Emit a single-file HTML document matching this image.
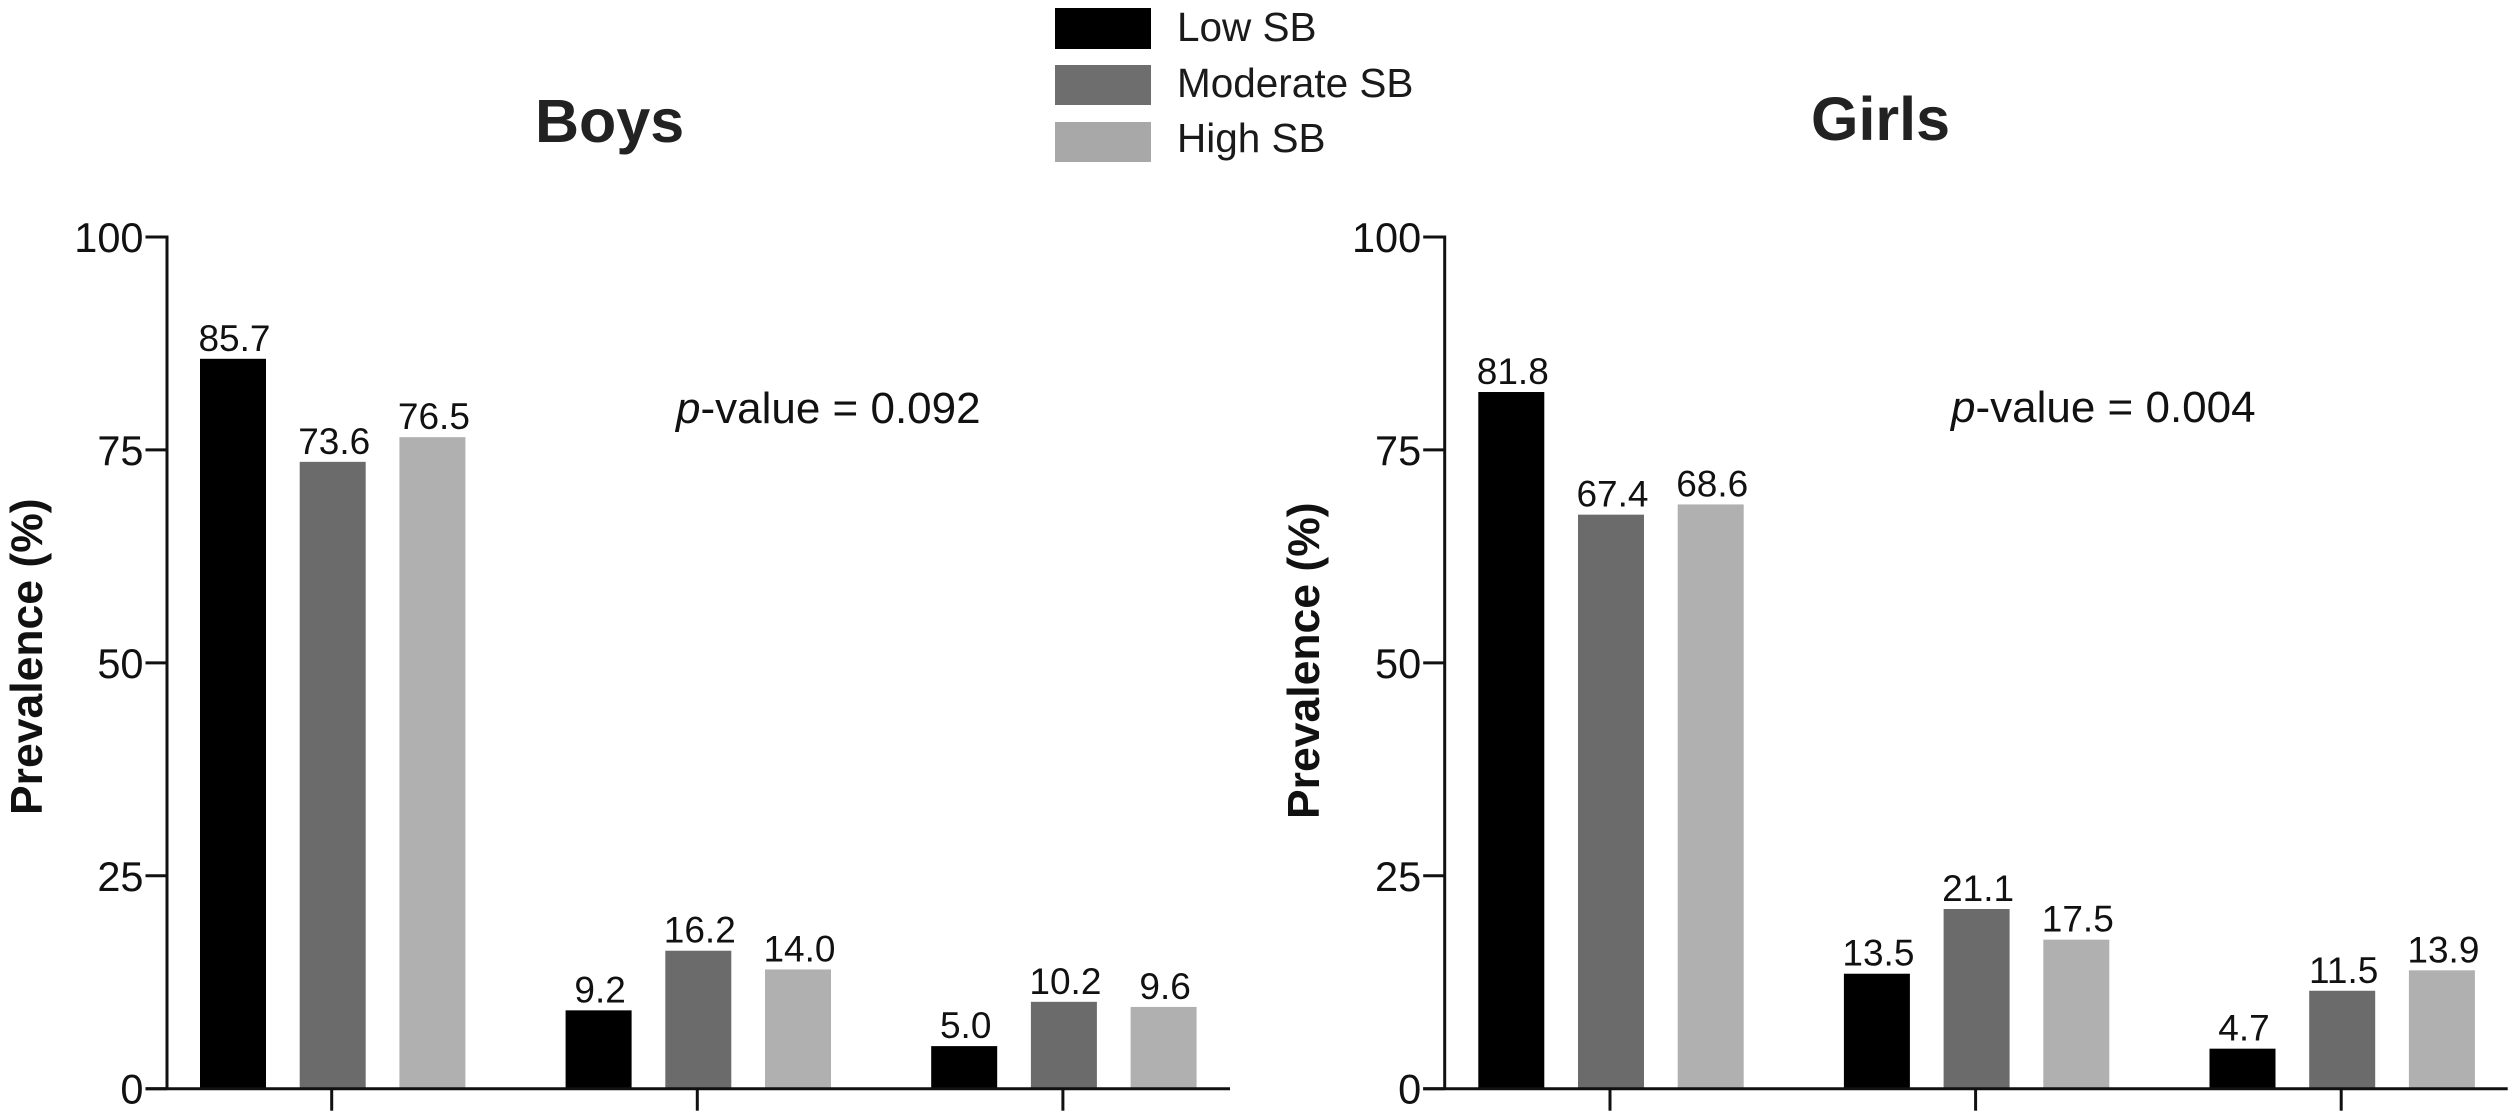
<!DOCTYPE html>
<html lang="en">
<head>
<meta charset="utf-8">
<title>Prevalence by sedentary behaviour level</title>
<style>
html,body{margin:0;padding:0;background:#fff;width:2517px;height:1120px;overflow:hidden}
svg{display:block;font-family:"Liberation Sans",Arial,sans-serif}
</style>
</head>
<body>
<svg id="chart" xmlns="http://www.w3.org/2000/svg" width="2517" height="1120" viewBox="0 0 2517 1120">
  <rect x="0" y="0" width="2517" height="1120" fill="#ffffff"/>
  <g>
    <g>
      <rect x="1055" y="8" width="96" height="41" fill="#000000"/>
      <text x="1177" y="41" font-size="40.5" fill="#1a1a1a">Low SB</text>
    </g>
    <g>
      <rect x="1055" y="65" width="96" height="40" fill="#6e6e6e"/>
      <text x="1177" y="97" font-size="40.5" fill="#1a1a1a">Moderate SB</text>
    </g>
    <g>
      <rect x="1055" y="122" width="96" height="40" fill="#a8a8a8"/>
      <text x="1177" y="152" font-size="40.5" fill="#1a1a1a">High SB</text>
    </g>
  </g>
  <text x="535" y="142" font-size="61" font-weight="700" fill="#222222">Boys</text>
  <text x="1811" y="140" font-size="61" font-weight="700" fill="#222222">Girls</text>
  <text transform="translate(42 815) rotate(-90)" font-size="44.5" font-weight="700" fill="#111111">Prevalence (%)</text>
  <text transform="translate(1319 819) rotate(-90)" font-size="44.5" font-weight="700" fill="#111111">Prevalence (%)</text>
  <text x="676" y="423" font-size="44" fill="#111111"><tspan font-style="italic">p</tspan>-value = 0.092</text>
  <text x="1951" y="422" font-size="44" fill="#111111"><tspan font-style="italic">p</tspan>-value = 0.004</text>
  <g id="boys-panel"></g>
  <g id="girls-panel"></g>
</svg>
<script>
const yTickLabels = [0, 25, 50, 75, 100];
const groupNames = ['group-1', 'group-2', 'group-3'];
const seriesNames = ['low-sb', 'moderate-sb', 'high-sb'];
const seriesColors = ['#000000', '#6b6b6b', '#b0b0b0'];
const boysLow = [85.7, 9.2, 5.0];
const boysModerate = [73.6, 16.2, 10.2];
const boysHigh = [76.5, 14.0, 9.6];
const girlsLow = [81.8, 13.5, 4.7];
const girlsModerate = [67.4, 21.1, 11.5];
const girlsHigh = [68.6, 17.5, 13.9];

const SVG_NS = 'http://www.w3.org/2000/svg';
const Y_ZERO = 1088.7;
const Y_TOP = 237;
const Y_MAX = 100;
const BAR_WIDTH = 66;
const BAR_STEP = 99.7;
const GROUP_STEP = 365.6;
const LABEL_GAP = 8;
const AXIS_COLOR = '#111111';
const AXIS_STROKE = 3;

function yScale(v) {
  return Y_ZERO - (v / Y_MAX) * (Y_ZERO - Y_TOP);
}
function xScale(firstBarX, groupIndex, seriesIndex) {
  return firstBarX + groupIndex * GROUP_STEP + seriesIndex * BAR_STEP;
}
function make(parent, tag, attrs, text) {
  const el = document.createElementNS(SVG_NS, tag);
  Object.keys(attrs).forEach(function (k) { el.setAttribute(k, attrs[k]); });
  if (text !== undefined) el.textContent = text;
  parent.appendChild(el);
  return el;
}
function drawPanel(panelId, prefix, axisX, firstBarX, axisEndX, series) {
  const g = document.getElementById(panelId);

  series.forEach(function (values, s) {
    values.forEach(function (value, i) {
      const x = xScale(firstBarX, i, s);
      const top = yScale(value);
      const bar = make(g, 'rect', { x: x, y: top, width: BAR_WIDTH, height: Y_ZERO - top, fill: seriesColors[s] });
      
      
      const label = make(g, 'text', { x: x + BAR_WIDTH / 2 + 1.5, y: top - LABEL_GAP, 'font-size': 37, 'text-anchor': 'middle', fill: '#111111' }, value.toFixed(1));
      
      
    });
  });

  const yAxis = make(g, 'line', { x1: axisX, x2: axisX, y1: yScale(Y_MAX) - 1.5, y2: Y_ZERO, stroke: AXIS_COLOR, 'stroke-width': AXIS_STROKE });
  
  

  const xAxis = make(g, 'line', { x1: axisX - 21.5, x2: axisEndX, y1: Y_ZERO, y2: Y_ZERO, stroke: AXIS_COLOR, 'stroke-width': AXIS_STROKE });
  
  

  yTickLabels.forEach(function (t) {
    const y = yScale(t);
    const tick = make(g, 'line', { x1: axisX - 21.5, x2: axisX, y1: y, y2: y, stroke: AXIS_COLOR, 'stroke-width': AXIS_STROKE });
    
    
    const label = make(g, 'text', { x: axisX - 23.5, y: y + 15, 'font-size': 41.5, 'text-anchor': 'end', fill: '#111111' }, String(t));
    
    
  });

  groupNames.forEach(function (name, i) {
    const cx = xScale(firstBarX, i, 1) + BAR_WIDTH / 2 - 1;
    const tick = make(g, 'line', { x1: cx, x2: cx, y1: Y_ZERO, y2: 1110.7, stroke: AXIS_COLOR, 'stroke-width': AXIS_STROKE });
    
    
  });
}
drawPanel('boys-panel', 'boys', 167, 200, 1230, [boysLow, boysModerate, boysHigh]);
drawPanel('girls-panel', 'girls', 1444.7, 1478.3, 2507.7, [girlsLow, girlsModerate, girlsHigh]);
</script>
</body>
</html>
